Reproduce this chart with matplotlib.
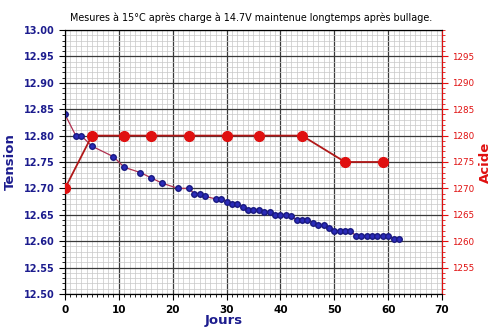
import numpy as np
import matplotlib
matplotlib.use("Agg")
import matplotlib.pyplot as plt
from matplotlib.ticker import MultipleLocator, FixedLocator

# tension (V) mesuree
jours_v = [0, 2, 3, 5, 9, 11, 14, 16, 18, 21, 23, 24, 25, 26, 28, 29, 30, 31, 32, 33,
           34, 35, 36, 37, 38, 39, 40, 41, 42, 43, 44, 45, 46, 47, 48, 49, 50, 51, 52,
           53, 54, 55, 56, 57, 58, 59, 60, 61, 62]
tension = [12.84, 12.80, 12.80, 12.78, 12.76, 12.74, 12.73, 12.72, 12.71, 12.70, 12.70,
           12.69, 12.69, 12.685, 12.68, 12.68, 12.675, 12.67, 12.67, 12.665, 12.66, 12.66,
           12.66, 12.655, 12.655, 12.65, 12.65, 12.65, 12.648, 12.64, 12.64, 12.64, 12.635,
           12.63, 12.63, 12.625, 12.62, 12.62, 12.62, 12.62, 12.61, 12.61, 12.61, 12.61,
           12.61, 12.61, 12.61, 12.605, 12.605]

# densite acide
jours_a = [0, 5, 11, 16, 23, 30, 36, 44, 52, 59]
acide = [1270, 1280, 1280, 1280, 1280, 1280, 1280, 1280, 1275, 1275]

bleu = '#1c1c8e'
rouge = '#e01010'

fig = plt.figure(figsize=(5, 3.29), dpi=100)
ax = fig.add_axes([0.13, 0.1064, 0.754, 0.8024])
ax2 = ax.twinx()

ax.set_xlim(0, 70)
ax.set_ylim(12.5, 13.0)
ax2.set_ylim(1250, 1300)

ax.xaxis.set_major_locator(MultipleLocator(10))
ax.xaxis.set_minor_locator(MultipleLocator(1))
ax.yaxis.set_major_locator(MultipleLocator(0.05))
ax.yaxis.set_minor_locator(MultipleLocator(0.01))
ax.yaxis.set_major_formatter(matplotlib.ticker.FormatStrFormatter('%.2f'))
ax2.yaxis.set_major_locator(FixedLocator([1255, 1260, 1265, 1270, 1275, 1280, 1285, 1290, 1295]))
ax2.yaxis.set_minor_locator(MultipleLocator(1))

ax.grid(which='minor', color='#c8c8c8', lw=0.5)
ax.grid(which='major', color='#3a3a3a', lw=0.9)
ax.set_axisbelow(True)

ax.plot(jours_v, tension, color='#b03050', lw=0.9, zorder=2)
ax.plot(jours_v, tension, 'o', color='#2a2ab8', mec='#1a1a80', ms=4, zorder=3)

ax2.plot(jours_a, acide, color='#b01818', lw=1.3, zorder=2)
ax2.plot(jours_a, acide, 'o', color=rouge, ms=7, zorder=3)

for lab in ax.get_yticklabels():
    lab.set_fontweight('bold')
ax.tick_params(axis='y', which='major', labelsize=7, labelcolor=bleu, length=4, width=0.8)
ax.tick_params(axis='y', which='minor', length=2.5)
ax.tick_params(axis='x', which='major', labelsize=7.5, length=4, width=0.8, pad=4)
ax.tick_params(axis='x', which='minor', length=2.5)
for lab in ax.get_xticklabels():
    lab.set_fontweight('bold')

ax2.tick_params(axis='y', which='major', labelsize=6.3, colors=rouge, length=4)
ax2.tick_params(axis='y', which='minor', colors=rouge, length=2)
ax2.spines['right'].set_color(rouge)

ax.set_ylabel('Tension', color=bleu, fontsize=9.5, fontweight='bold')
ax.yaxis.set_label_coords(-0.128, 0.5)
ax2.set_ylabel('Acide', color=rouge, fontsize=9.5, fontweight='bold')
ax2.yaxis.set_label_coords(1.098, 0.5)
ax.set_xlabel('Jours', color=bleu, fontsize=9.5, fontweight='bold')
ax.xaxis.set_label_coords(0.42, -0.075)

fig.text(0.503, 0.945, 'Mesures à 15°C après charge à 14.7V maintenue longtemps après bullage.',
         ha='center', va='center', fontsize=6.9)

fig.savefig('out.png', dpi=100)
